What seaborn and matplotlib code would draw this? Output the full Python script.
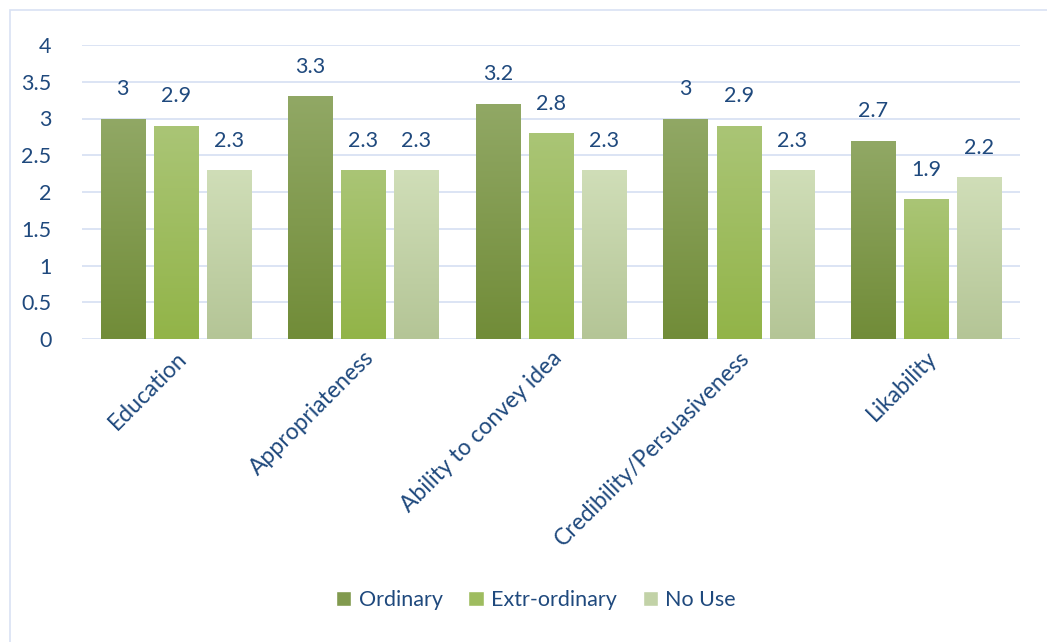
import numpy as np
import pandas as pd
import matplotlib
matplotlib.use("Agg")
import matplotlib.pyplot as plt
import matplotlib.colors as mcolors
from matplotlib.patches import Rectangle
import seaborn as sns

categories = ["Education", "Appropriateness", "Ability to convey idea",
              "Credibility/Persuasiveness", "Likability"]
ordinary = [3.0, 3.3, 3.2, 3.0, 2.7]
extra_ordinary = [2.9, 2.3, 2.8, 2.9, 1.9]
no_use = [2.3, 2.3, 2.3, 2.3, 2.2]
series_names = ["Ordinary", "Extr-ordinary", "No Use"]
y_ticks = [0, 0.5, 1, 1.5, 2, 2.5, 3, 3.5, 4]
y_tick_labels = ["0", "0.5", "1", "1.5", "2", "2.5", "3", "3.5", "4"]

# top / bottom colours of each series' vertical gradient
grad_colors = {
    "Ordinary": ("#91A865", "#718C38"),
    "Extr-ordinary": ("#AAC576", "#92B448"),
    "No Use": ("#D0DEB8", "#B4C596"),
}
text_color = "#1F497D"
grid_color = "#D9E2F3"
fs = 15.5

sns.set_theme(style="white")
plt.rcParams["font.family"] = ["Lato", "DejaVu Sans"]

df = pd.DataFrame({
    "category": categories * 3,
    "series": np.repeat(series_names, len(categories)),
    "value": ordinary + extra_ordinary + no_use,
})

fig = plt.figure(figsize=(10.47, 6.42), dpi=100)
ax = fig.add_axes([82 / 1047, 1 - 339 / 642, (1020 - 82) / 1047, (339 - 45) / 642])

palette = {k: v[1] for k, v in grad_colors.items()}
sns.barplot(data=df, x="category", y="value", hue="series", hue_order=series_names,
            palette=palette, width=0.85, gap=0.17, ax=ax, legend=False,
            errorbar=None, saturation=1)

ax.set_ylim(0, 4)
ax.set_xlim(-0.5, len(categories) - 0.5)
ax.set_yticks(y_ticks)
ax.set_yticklabels(y_tick_labels)
ax.yaxis.grid(True, color=grid_color, linewidth=1.3)
ax.set_axisbelow(True)
for s in ax.spines.values():
    s.set_visible(False)
ax.set_xlabel("")
ax.set_ylabel("")
ax.tick_params(axis="y", length=0, pad=22, labelsize=fs, labelcolor=text_color)
ax.tick_params(axis="x", length=0, pad=6, labelsize=16.5, labelcolor=text_color)
plt.setp(ax.get_xticklabels(), rotation=45, ha="right", rotation_mode="anchor")
for lbl in ax.get_yticklabels():
    lbl.set_horizontalalignment("right")

# replace flat fills with vertical gradients and add value labels
for cont, name in zip(ax.containers, series_names):
    top, bottom = grad_colors[name]
    cmap = mcolors.LinearSegmentedColormap.from_list(name, [bottom, top])
    grad = np.linspace(0, 1, 256).reshape(-1, 1)
    for bar, val in zip(cont.patches, df.loc[df.series == name, "value"]):
        x0, w, h = bar.get_x(), bar.get_width(), bar.get_height()
        bar.set_facecolor("none")
        bar.set_edgecolor("none")
        im = ax.imshow(grad, cmap=cmap, origin="lower", aspect="auto",
                       extent=[x0, x0 + w, 0, h], zorder=2)
        im.set_clip_path(Rectangle((x0, 0), w, h, transform=ax.transData))
        ax.annotate(f"{val:g}", (x0 + w / 2, h), xytext=(0, 14),
                    textcoords="offset points", ha="center", va="bottom",
                    fontsize=fs, color=text_color)
ax.set_xlim(-0.5, len(categories) - 0.5)
ax.set_ylim(0, 4)

# legend
handles = []
for name in series_names:
    top, bottom = grad_colors[name]
    handles.append(Rectangle((0, 0), 1, 1, facecolor=mcolors.to_hex(
        np.mean([mcolors.to_rgb(top), mcolors.to_rgb(bottom)], axis=0))))
fig.legend(handles, series_names, loc="center", bbox_to_anchor=(536 / 1047, 1 - 600 / 642),
           ncol=3, frameon=False, fontsize=fs, labelcolor=text_color,
           handlelength=0.7, handleheight=0.7, handletextpad=0.35, columnspacing=1.2)

# chart frame
fig.add_artist(Rectangle((10 / 1047, -0.01), 1.05, 1 - 10 / 642 + 0.01,
                         transform=fig.transFigure, fill=False,
                         edgecolor=grid_color, linewidth=1.2))

fig.savefig("out.png", dpi=100, facecolor="white")
